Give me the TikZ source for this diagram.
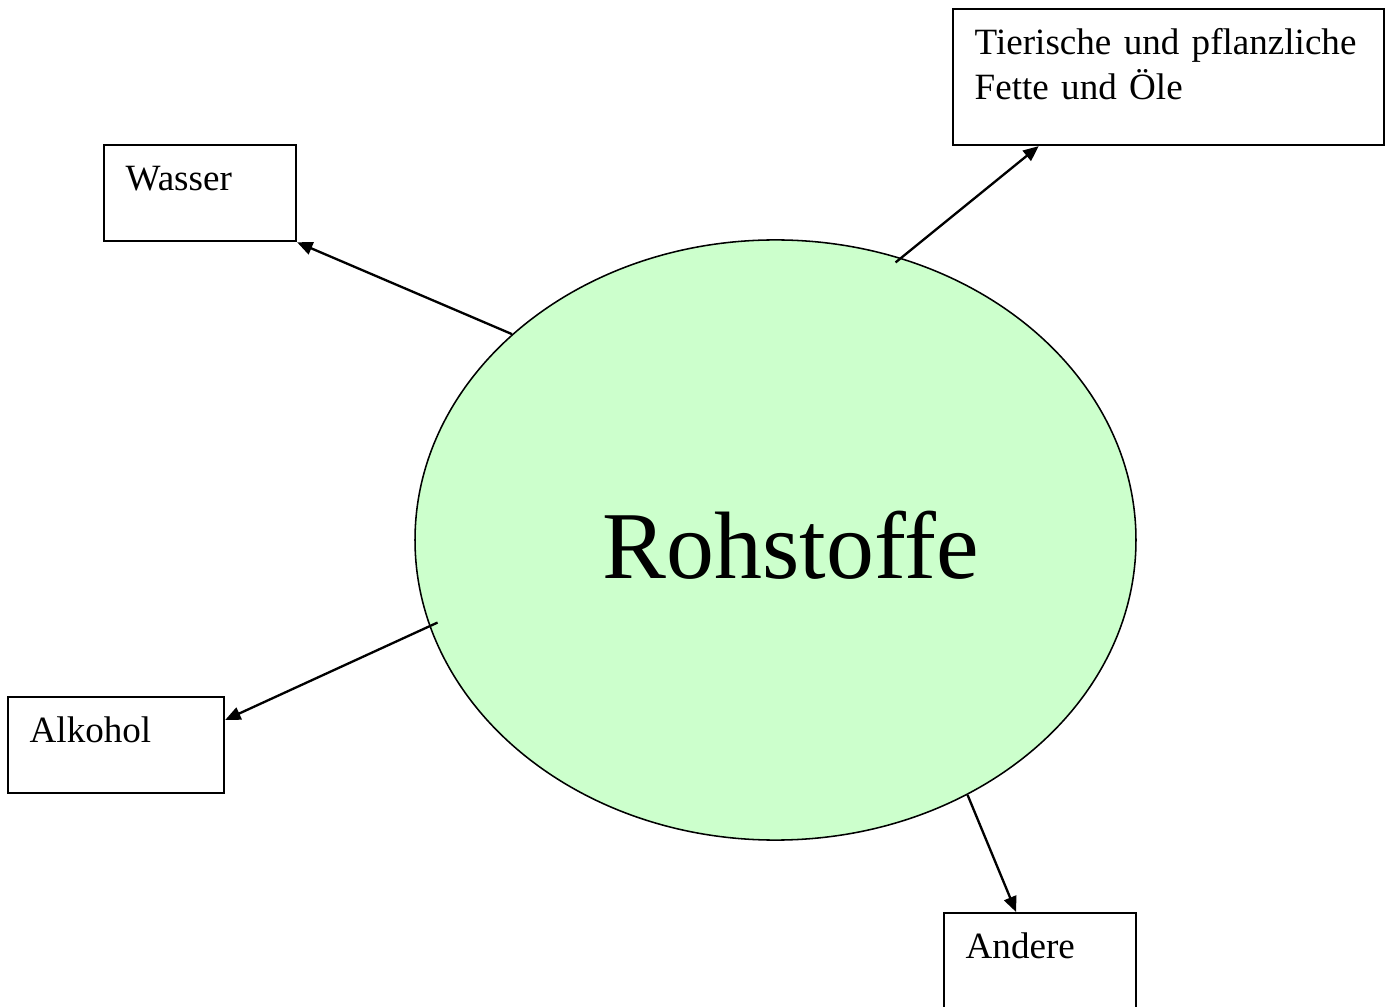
\documentclass[tikz,border=0pt]{standalone}
\usepackage{fontspec}
\setmainfont{Liberation Serif}
\usetikzlibrary{arrows.meta,
                shapes.geometric}
\definecolor{rsgreen}{HTML}{CCFFCC}

\begin{document}
\begin{tikzpicture}[
        x=0.3236pt, y=-0.3236pt,
     base/.style = {draw, line width=0.7pt, anchor=north west, align=left,
                    font=\fontsize{12}{14.6}\selectfont,
                    inner xsep=7pt, inner ysep=4.6pt, text height=10pt},
      box/.style = {base, text width=#1, text depth=11.9pt},
  widebox/.style = {base, text width=125.5pt, text depth=24.8pt},
 rohstoff/.style = {ellipse, draw, fill=rsgreen, line width=0.5pt,
                    minimum width=233.3pt, minimum height=194.2pt, inner sep=0pt},
    arrow/.style = {-{Triangle[length=5pt, width=4.2pt]}, line width=0.75pt}
                    ]
\useasboundingbox (0,0) rectangle (1395,1007);
 % main
\node (rs) [rohstoff] at (775.5,540) {};
\node (rstext) [anchor=base, font=\fontsize{31}{37}\selectfont]
      at ([xshift=5pt, yshift=-12.6pt]rs.center) {Rohstoffe};
% boxes
\node (wasser)  [box=48.1pt] at (103,144)  {Wasser};
\node (fett)    [widebox]    at (952,8)    {Tierische und pflanzliche\\Fette und Öle};
\node (alkohol) [box=55.9pt] at (7,696)    {Alkohol};
\node (andere)  [box=48.1pt] at (943,912)  {Andere};
% connectors
\draw[arrow] (rs.142.3) -- (wasser.south east);
\draw[arrow, shorten <=-2.3pt] (rs.66.6) -- (fett.208);
\draw[arrow, shorten <=-2.9pt] (rs.194) -- (alkohol.13.4);
\draw[arrow] (rs.307.4) -- (andere.116.6);
\end{tikzpicture}
\end{document}
